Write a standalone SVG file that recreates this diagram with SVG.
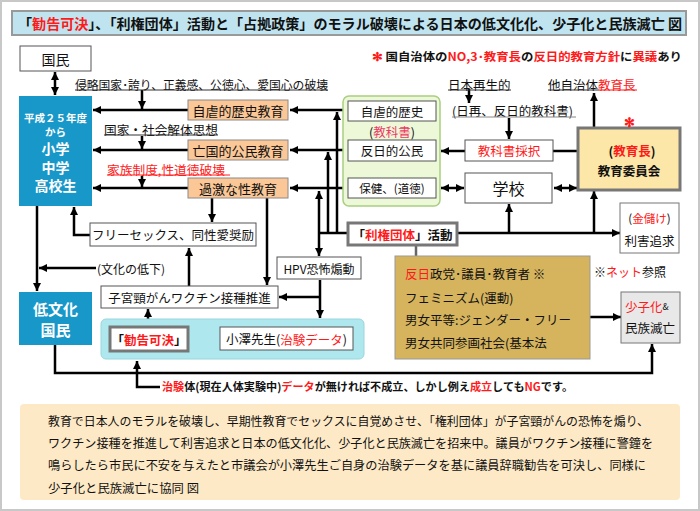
<svg xmlns="http://www.w3.org/2000/svg" width="700" height="511" viewBox="0 0 700 511">
<defs>
<marker id="ah" viewBox="0 0 8 8" refX="8" refY="4" markerWidth="8" markerHeight="8" markerUnits="userSpaceOnUse" orient="auto-start-reverse">
<path d="M0,0 L8,4 L0,8 z" fill="#000"/>
</marker>
<style>
text{font-family:"Noto Sans CJK JP","Noto Sans",sans-serif;fill:#111;dominant-baseline:central}
.c{text-anchor:middle}
.r{fill:#ff1a1a}
.pk{fill:#ee3a66}
.w{fill:#fff}
.b{font-weight:bold}
.ln{stroke:#000;stroke-width:2.5;fill:none}
.ar{marker-end:url(#ah)}
.ar2{marker-start:url(#ah);marker-end:url(#ah)}
.ob{fill:#fbc796;stroke:#8a8a8a;stroke-width:1}
.wb{fill:#fff;stroke:#555;stroke-width:1}
.tb{fill:#fff;stroke:#777;stroke-width:3}
.blue{fill:#1897c9}
.ul{stroke:#333;stroke-width:1}
</style>
</defs>
<rect x="1" y="1" width="698" height="509" fill="#fff" stroke="#c8c8c8" stroke-width="2"/>

<g id="title">
<rect x="12" y="11" width="674" height="24" fill="#bfe4ef" stroke="#999" stroke-width="2"/>
<text x="18" y="23" font-size="14" class="b" textLength="664" lengthAdjust="spacingAndGlyphs">「<tspan class="r">勧告可決</tspan>」、「利権団体」活動と「占拠政策」のモラル破壊による日本の低文化化、少子化と民族滅亡 図</text>
</g>

<g id="note-top">
<text x="372" y="56" font-size="11.5" class="b" textLength="310" lengthAdjust="spacingAndGlyphs"><tspan class="r">✻</tspan> 国自治体の<tspan class="r">NO,3･教育長</tspan>の<tspan class="r">反日的教育方針</tspan>に<tspan class="r">異議</tspan>あり</text>
</g>

<g id="connectors">
<path class="ln ar2" d="M55,72 V95"/>
<path class="ln ar" d="M188,110 H93"/>
<path class="ln ar" d="M188,150 H93"/>
<path class="ln ar" d="M188,188 H93"/>
<path class="ln ar" d="M142,90 V109"/>
<path class="ln ar" d="M142,136 V149"/>
<path class="ln ar" d="M142,176 V187"/>
<path class="ln ar" d="M343,110 H290"/>
<path class="ln ar" d="M343,150 H290"/>
<path class="ln ar" d="M343,188 H290"/>
<path class="ln ar" d="M337,233 V112"/>
<path class="ln ar" d="M328,233 V152"/>
<path class="ln ar2" d="M319,191 V256"/>
<path class="ln" d="M319,233 H347"/>
<path class="ln ar" d="M457,233 H620"/>
<path class="ln ar" d="M509,233 V204"/>
<path class="ln ar" d="M594,233 V191"/>
<path d="M416,245 V256" stroke="#666" stroke-width="2.5"/>
<path class="ln ar2" d="M441,188 H464"/>
<path class="ln ar2" d="M554,188 H577"/>
<path class="ln ar" d="M465,151 H441"/>
<path class="ln" d="M553,151 H605"/>
<path class="ln ar2" d="M594,93 V149"/>
<path class="ln ar" d="M469,89 V103"/>
<path class="ln ar" d="M509,118 V139"/>
<path class="ln ar" d="M212,198 V222"/>
<path class="ln ar" d="M267,198 V285"/>
<path class="ln ar" d="M90,235 H74 V207"/>
<path class="ln ar" d="M189,286 V248"/>
<path class="ln ar" d="M320,280 V318"/>
<path class="ln ar" d="M320,297 H279"/>
<path class="ln ar" d="M37,206 V291"/>
<path class="ln ar" d="M96,268 H39"/>
<path class="ln ar" d="M220,339 H189"/>
<path class="ln ar" d="M148,327 V309"/>
<path class="ln ar" d="M55,345 V373 H652 V344"/>
<path class="ln ar" d="M160,387 H137 V361"/>
<path class="ln ar" d="M590,317 H621"/>
</g>

<g id="kokumin">
<rect x="20" y="46" width="71" height="25" class="wb"/>
<text x="55.5" y="58.5" font-size="14" class="c">国民</text>
</g>

<g id="students">
<rect x="19" y="96" width="73" height="110" class="blue"/>
<text x="55.5" y="117" font-size="10.5" class="c w b">平成２５年度</text>
<text x="55.5" y="131" font-size="10.5" class="c w b">から</text>
<text x="55.5" y="148" font-size="14" class="c w b">小学</text>
<text x="55.5" y="166.5" font-size="14" class="c w b">中学</text>
<text x="55.5" y="185" font-size="14" class="c w b">高校生</text>
</g>

<g id="low-culture">
<rect x="19" y="292" width="73" height="53" class="blue"/>
<text x="55.5" y="308" font-size="15" class="c w b">低文化</text>
<text x="55.5" y="329" font-size="15" class="c w b">国民</text>
</g>

<g id="labels-left">
<text x="75" y="84" font-size="12" textLength="253" lengthAdjust="spacingAndGlyphs">侵略国家･誇り、正義感、公徳心、愛国心の破壊</text>
<line x1="75" y1="90" x2="328" y2="90" class="ul"/>
<text x="104" y="129" font-size="12.5" textLength="114" lengthAdjust="spacingAndGlyphs">国家・社会解体思想</text>
<line x1="104" y1="135" x2="218" y2="135" class="ul"/>
<text x="107" y="169" font-size="12" class="r" textLength="118" lengthAdjust="spacingAndGlyphs">家族制度,性道徳破壊</text>
<line x1="107" y1="175" x2="230" y2="175" stroke="#ff1a1a" stroke-width="1"/>
<text x="97" y="268" font-size="12">(文化の低下)</text>
</g>

<g id="edu-history">
<rect x="188" y="100" width="100" height="20" class="ob"/>
<text x="238" y="110" font-size="13" class="c">自虐的歴史教育</text>
</g>
<g id="edu-civics">
<rect x="188" y="140" width="100" height="20" class="ob"/>
<text x="238" y="150" font-size="13" class="c">亡国的公民教育</text>
</g>
<g id="edu-sex">
<rect x="188" y="178" width="100" height="20" class="ob"/>
<text x="238" y="188" font-size="13" class="c">過激な性教育</text>
</g>

<g id="textbook-panel">
<rect x="343" y="96" width="97" height="110" rx="6" fill="#ecf8d8" stroke="#a8cf80" stroke-width="1.5"/>
<rect x="348" y="101" width="88" height="20" class="wb"/>
<text x="392" y="111" font-size="12.5" class="c">自虐的歴史</text>
<text x="392" y="131" font-size="12.5" class="c">(<tspan class="pk">教科書</tspan>)</text>
<rect x="348" y="140" width="88" height="21" class="wb"/>
<text x="392" y="150.5" font-size="12.5" class="c">反日的公民</text>
<rect x="348" y="178" width="88" height="20" class="wb"/>
<text x="392" y="188" font-size="11.5" class="c">保健、(道徳)</text>
</g>

<g id="labels-right">
<text x="448" y="84" font-size="12.5">日本再生的</text>
<line x1="448" y1="90" x2="511" y2="90" class="ul"/>
<text x="452" y="110" font-size="12.5">(日再、反日的教科書)</text>
<line x1="452" y1="117" x2="576" y2="117" stroke="#888" stroke-width="1.2"/>
<text x="548" y="84" font-size="12.5">他自治体<tspan class="r">教育長</tspan></text>
<line x1="548" y1="90" x2="599" y2="90" class="ul"/>
<line x1="599" y1="90" x2="637" y2="90" stroke="#ff1a1a" stroke-width="1"/>
</g>

<g id="adoption">
<rect x="465" y="140" width="88" height="21" class="wb"/>
<text x="509" y="150.5" font-size="12.5" class="c r">教科書採択</text>
</g>

<g id="school">
<rect x="465" y="173" width="87" height="30" class="wb"/>
<text x="508.5" y="188" font-size="16" class="c">学校</text>
</g>

<g id="board">
<rect x="578" y="128" width="102" height="62" fill="#fde7a8" stroke="#777" stroke-width="3"/>
<text x="632" y="150" font-size="12.5" class="c b">(<tspan class="r">教育長</tspan>)</text>
<text x="629" y="170" font-size="12.5" class="c b">教育委員会</text>
<text x="629" y="121" font-size="13" class="c r b">✻</text>
</g>

<g id="profit">
<rect x="620" y="203" width="59" height="50" fill="#fff" stroke="#777" stroke-width="1"/>
<text x="649.5" y="218" font-size="11.5" class="c">(<tspan class="r">金儲け</tspan>)</text>
<text x="649.5" y="240" font-size="12.5" class="c">利害追求</text>
</g>

<g id="rights-group">
<rect x="348" y="223" width="109" height="22" class="tb"/>
<text x="402.5" y="234" font-size="12.5" class="c b">「<tspan class="r">利権団体</tspan>」活動</text>
</g>

<g id="anti-japan">
<rect x="395" y="256" width="195" height="103" fill="#d6b45e" stroke="#999" stroke-width="1"/>
<text x="405" y="273" font-size="12.5"><tspan class="r">反日</tspan>政党･議員･教育者 ※</text>
<text x="405" y="297" font-size="12.5">フェミニズム(運動)</text>
<text x="405" y="319" font-size="12.5">男女平等:ジェンダー・フリー</text>
<text x="405" y="342" font-size="12.5">男女共同参画社会(基本法</text>
</g>

<g id="net-ref">
<text x="594" y="271" font-size="12">※<tspan class="r">ネット</tspan>参照</text>
</g>

<g id="decline">
<rect x="621" y="292" width="59" height="51" fill="#e8e8e8" stroke="#777" stroke-width="1"/>
<text x="625" y="306" font-size="12.5"><tspan class="r">少子化</tspan><tspan font-size="9">&amp;</tspan></text>
<text x="625" y="327" font-size="12.5">民族滅亡</text>
</g>

<g id="hpv">
<rect x="277" y="257" width="84" height="22" class="wb"/>
<text x="319" y="268" font-size="12" class="c">HPV恐怖煽動</text>
</g>

<g id="vaccine">
<rect x="101" y="286" width="177" height="22" class="wb"/>
<text x="189.5" y="297" font-size="12.5" class="c">子宮頸がんワクチン接種推進</text>
</g>

<g id="free-sex">
<rect x="90" y="223" width="166" height="23" class="wb"/>
<text x="173" y="234.5" font-size="12.5" class="c">フリーセックス、同性愛奨励</text>
</g>

<g id="council-panel">
<rect x="101" y="319" width="263" height="40" rx="5" fill="#aee8ee" stroke="#9ad6de" stroke-width="1"/>
<rect x="110" y="327" width="78" height="24" class="tb"/>
<text x="149" y="339" font-size="12.5" class="c b">「<tspan class="r">勧告可決</tspan>」</text>
<rect x="220" y="327" width="133" height="23" class="wb"/>
<text x="286.5" y="338.5" font-size="12.5" class="c">小澤先生(<tspan class="r">治験データ</tspan>)</text>
</g>

<g id="note-bottom">
<text x="162" y="386" font-size="11" class="b" textLength="411" lengthAdjust="spacingAndGlyphs"><tspan class="r">治験</tspan>体(現在人体実験中)<tspan class="r">データ</tspan>が無ければ不成立、しかし例え<tspan class="r">成立</tspan>しても<tspan class="r">NG</tspan>です。</text>
</g>

<g id="summary">
<rect x="20" y="404" width="660" height="96" rx="4" fill="#fde9c6"/>
<text x="48" y="420" font-size="12" textLength="601" lengthAdjust="spacingAndGlyphs">教育で日本人のモラルを破壊し、早期性教育でセックスに自覚めさせ、「権利団体」が子宮頸がんの恐怖を煽り、</text>
<text x="48" y="442" font-size="12" textLength="605" lengthAdjust="spacingAndGlyphs">ワクチン接種を推進して利害追求と日本の低文化化、少子化と民族滅亡を招来中。議員がワクチン接種に警鐘を</text>
<text x="48" y="464" font-size="12" textLength="598" lengthAdjust="spacingAndGlyphs">鳴らしたら市民に不安を与えたと市議会が小澤先生ご自身の治験データを基に議員辞職勧告を可決し、同様に</text>
<text x="48" y="487" font-size="12" textLength="151" lengthAdjust="spacingAndGlyphs">少子化と民族滅亡に協同 図</text>
</g>
</svg>
